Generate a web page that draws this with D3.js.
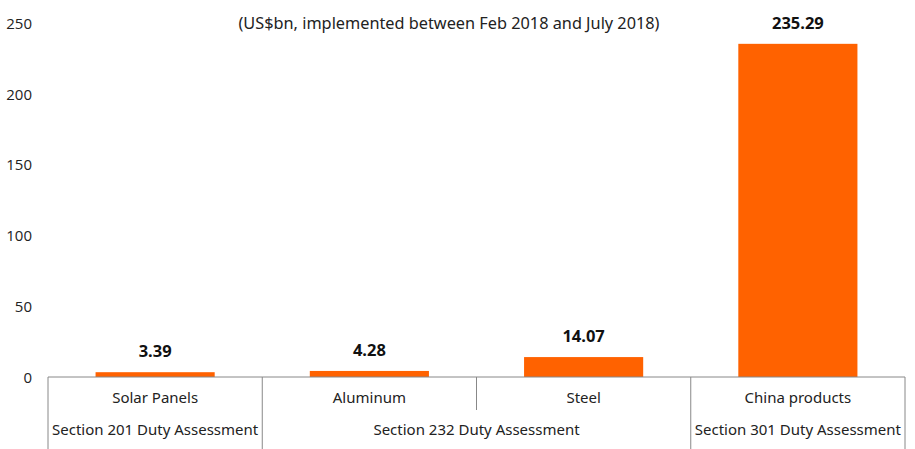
<!DOCTYPE html>
<html>
<head>
<meta charset="utf-8">
<script src="https://cdn.jsdelivr.net/npm/d3@7"></script>
<style>
  html, body { margin: 0; padding: 0; background: #fff; }
  svg { display: block; }
  .tick-y text { font-family: "Open Sans", sans-serif; font-size: 15px; fill: #222; }
  .cat-label, .group-label { font-family: "Noto Sans", sans-serif; font-size: 15px; fill: #222; }
  .value-label { font-family: "Noto Sans", sans-serif; font-size: 16.5px; font-weight: bold; fill: #111; }
  .note { font-family: "Noto Sans", sans-serif; font-size: 16.3px; fill: #222; }
</style>
</head>
<body>
<div class="container-chart"></div>
<script>
const categories = ['Solar Panels', 'Aluminum', 'Steel', 'China products'];
const values = [3.39, 4.28, 14.07, 235.29];
const groups = [
  { name: 'Section 201 Duty Assessment', from: 0, to: 1 },
  { name: 'Section 232 Duty Assessment', from: 1, to: 3 },
  { name: 'Section 301 Duty Assessment', from: 3, to: 4 }
];
const yTicks = [0, 50, 100, 150, 200, 250];
const note = '(US$bn, implemented between Feb 2018 and July 2018)';

const width = 915;
const height = 449;
const padding = { top: 23, right: 10, bottom: 72, left: 48 };

const scaleX = d3.scaleBand()
  .domain(categories)
  .range([padding.left, width - padding.right])
  .paddingInner(0)
  .paddingOuter(0);

const scaleY = d3.scaleLinear()
  .domain([0, 250])
  .range([height - padding.bottom, padding.top]);

const svg = d3.select('.container-chart')
  .append('svg')
  .attr('width', width)
  .attr('height', height);

// y axis labels only, no line
const axisY = d3.axisLeft(scaleY)
  .tickValues(yTicks)
  .tickSize(0)
  .tickPadding(0);

svg.append('g')
  .attr('class', 'tick-y')
  .attr('transform', 'translate(32, 0)')
  .call(axisY)
  .call(g => g.select('.domain').remove())
  .call(g => g.selectAll('text').attr('dy', '0.35em'));

svg.append('text')
  .attr('class', 'note')
  .attr('x', 449)
  .attr('y', scaleY(250))
  .attr('dy', '0.35em')
  .attr('text-anchor', 'middle')
  .text(note);

const barWidth = scaleX.bandwidth() * 0.556;

svg.selectAll('rect.bar')
  .data(values)
  .enter()
  .append('rect')
  .attr('class', 'bar')
  .attr('x', (d, i) => scaleX(categories[i]) + (scaleX.bandwidth() - barWidth) / 2)
  .attr('y', d => scaleY(d))
  .attr('width', barWidth)
  .attr('height', d => scaleY(0) - scaleY(d))
  .attr('fill', '#ff6200');

svg.selectAll('text.value-label')
  .data(values)
  .enter()
  .append('text')
  .attr('class', 'value-label')
  .attr('x', (d, i) => scaleX(categories[i]) + scaleX.bandwidth() / 2)
  .attr('y', d => scaleY(d) - 15)
  .attr('text-anchor', 'middle')
  .text(d => d.toFixed(2));

// baseline
const base = scaleY(0);
const bottom = height;
svg.append('line')
  .attr('x1', padding.left).attr('x2', width - padding.right)
  .attr('y1', base).attr('y2', base)
  .attr('stroke', '#888').attr('stroke-width', 1);

// category label row
svg.selectAll('text.cat-label')
  .data(categories)
  .enter()
  .append('text')
  .attr('class', 'cat-label')
  .attr('x', d => scaleX(d) + scaleX.bandwidth() / 2)
  .attr('y', base + 21)
  .attr('dy', '0.35em')
  .attr('text-anchor', 'middle')
  .text(d => d);

// dividers: short ones inside a group, long ones between groups
const groupEdges = new Set(groups.flatMap(g => [g.from, g.to]));
const edges = d3.range(categories.length + 1);
svg.selectAll('line.divider')
  .data(edges)
  .enter()
  .append('line')
  .attr('class', 'divider')
  .attr('x1', i => i < categories.length ? scaleX(categories[i]) : scaleX.range()[1])
  .attr('x2', i => i < categories.length ? scaleX(categories[i]) : scaleX.range()[1])
  .attr('y1', base)
  .attr('y2', i => groupEdges.has(i) ? bottom : base + 33)
  .attr('stroke', '#888')
  .attr('stroke-width', 1);

svg.selectAll('text.group-label')
  .data(groups)
  .enter()
  .append('text')
  .attr('class', 'group-label')
  .attr('x', g => {
    const x0 = scaleX(categories[g.from]);
    const x1 = g.to < categories.length ? scaleX(categories[g.to]) : scaleX.range()[1];
    return (x0 + x1) / 2;
  })
  .attr('y', base + 53)
  .attr('dy', '0.35em')
  .attr('text-anchor', 'middle')
  .text(g => g.name);
</script>
</body>
</html>
